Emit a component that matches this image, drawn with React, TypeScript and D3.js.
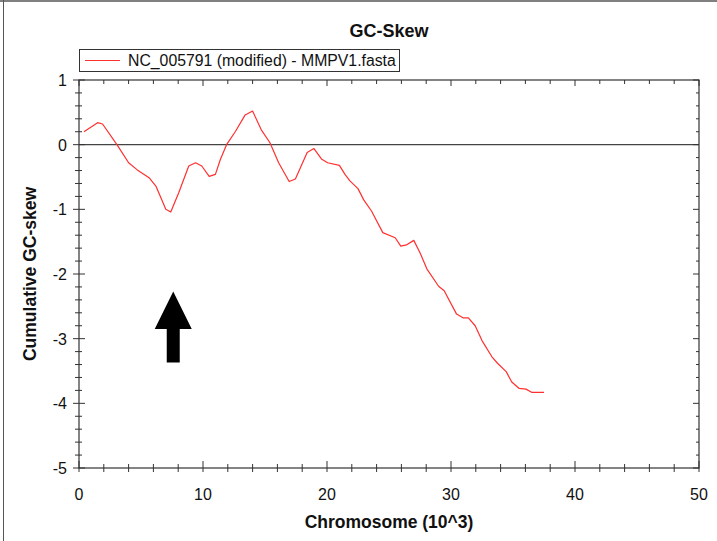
import * as d3 from "d3";

// cumulative GC-skew, x in kb
const positions = [
  0.4, 1.5, 1.9, 3.1, 4.0, 4.7, 5.65, 6.2, 7.0, 7.4, 8.05, 8.85, 9.4, 9.9, 10.5, 11.0, 11.4, 11.9,
  12.6, 13.4, 14.0, 14.7, 15.4, 16.1, 16.95, 17.45, 18.4, 18.95, 19.55, 20.05, 21.0, 21.45, 21.85,
  22.5, 22.95, 23.6, 24.5, 25.5, 25.95, 26.4, 27.0, 27.5, 28.05, 29.0, 29.45, 30.45, 31.0, 31.4,
  31.95, 32.5, 33.3, 33.75, 34.45, 34.9, 35.5, 36.05, 36.5, 37.5
];
const skew = [
  0.2, 0.34, 0.32, -0.01, -0.28, -0.39, -0.51, -0.64, -1.0, -1.04, -0.74, -0.33, -0.28, -0.33, -0.49,
  -0.46, -0.23, 0.0, 0.2, 0.46, 0.52, 0.23, 0.03, -0.28, -0.57, -0.53, -0.12, -0.06, -0.22, -0.28,
  -0.32, -0.46, -0.56, -0.68, -0.85, -1.03, -1.36, -1.44, -1.57, -1.55, -1.48, -1.67, -1.92, -2.19,
  -2.26, -2.62, -2.68, -2.68, -2.8, -3.03, -3.28, -3.38, -3.51, -3.67, -3.77, -3.78, -3.83, -3.83
];
const xMajorTicks = [0, 10, 20, 30, 40, 50];
const yMajorTicks = [1, 0, -1, -2, -3, -4, -5];
const seriesName = "NC_005791 (modified) - MMPV1.fasta";
// arrow annotation, in data units
const arrowAt = { x: 7.6, tip: -2.27, headBase: -2.85, tail: -3.37 };

export default function App() {
  const width = 717;
  const height = 541;
  const left = 79;
  const right = 699;
  const top = 80;
  const bottom = 468;
  const font = "'Liberation Sans', Arial, sans-serif";

  const x = d3.scaleLinear().domain([0, 50]).range([left, right]);
  const y = d3.scaleLinear().domain([-5, 1]).range([bottom, top]);

  const xMinor = d3.range(0, 50.001, 2);
  const yMinor = d3.range(-5, 1.001, 0.2);

  const line = d3
    .line<number>()
    .x((_, i) => x(positions[i]))
    .y((d) => y(d));

  const ax = x(arrowAt.x);
  const arrowPath = [
    [ax, y(arrowAt.tip)],
    [ax + 18.5, y(arrowAt.headBase)],
    [ax + 6.5, y(arrowAt.headBase)],
    [ax + 6.5, y(arrowAt.tail)],
    [ax - 6.5, y(arrowAt.tail)],
    [ax - 6.5, y(arrowAt.headBase)],
    [ax - 18.5, y(arrowAt.headBase)]
  ];

  const axisColor = "#333";

  return (
    <div style={{ position: "fixed", left: 0, top: 0 }}>
      <svg width={width} height={height} viewBox={`0 0 ${width} ${height}`} style={{ display: "block", background: "#fff" }}>
        <line x1={0} x2={width} y1={1} y2={1} stroke="#808080" strokeWidth={2} />
        <line x1={3.5} x2={3.5} y1={0} y2={height} stroke="#555" strokeWidth={1} />

        <text x={(left + right) / 2} y={37} textAnchor="middle" fontFamily={font} fontWeight="bold" fontSize={18} fill="#111">
          GC-Skew
        </text>

        {/* legend */}
        <rect x={79.5} y={49.5} width={320} height={22} fill="#fff" stroke={axisColor} strokeWidth={1} />
        <line x1={85} x2={120} y1={60.5} y2={60.5} stroke="#ff3030" strokeWidth={1} />
        <text x={128} y={66} fontFamily={font} fontSize={15.8} fill="#111">
          {seriesName}
        </text>

        {/* zero line */}
        <line x1={left} x2={right} y1={y(0)} y2={y(0)} stroke="#444" strokeWidth={1.2} />

        {/* frame */}
        <rect x={left} y={top} width={right - left} height={bottom - top} fill="none" stroke={axisColor} strokeWidth={1.2} />

        {/* bottom & top ticks */}
        {xMinor.map((t) => {
          const major = xMajorTicks.includes(t);
          return (
            <g key={`x${t}`} stroke={axisColor} strokeWidth={1}>
              <line x1={x(t)} x2={x(t)} y1={bottom - (major ? 7 : 4)} y2={bottom + 4} />
              <line x1={x(t)} x2={x(t)} y1={top} y2={top + (major ? 6 : 4)} />
            </g>
          );
        })}
        {/* left & right ticks */}
        {yMinor.map((t) => {
          const major = Math.abs(t - Math.round(t)) < 1e-6;
          return (
            <g key={`y${t.toFixed(1)}`} stroke={axisColor} strokeWidth={1}>
              <line x1={left - (major ? 6 : 4)} x2={left + (major ? 6 : 3)} y1={y(t)} y2={y(t)} />
              <line x1={right - (major ? 6 : 3)} x2={right} y1={y(t)} y2={y(t)} />
            </g>
          );
        })}

        {xMajorTicks.map((t) => (
          <text key={`xl${t}`} x={x(t)} y={500} textAnchor="middle" fontFamily={font} fontSize={16} fill="#111">
            {t}
          </text>
        ))}
        {yMajorTicks.map((t) => (
          <text key={`yl${t}`} x={67} y={y(t) + 6} textAnchor="end" fontFamily={font} fontSize={16} fill="#111">
            {t}
          </text>
        ))}

        <text x={(left + right) / 2} y={528} textAnchor="middle" fontFamily={font} fontWeight="bold" fontSize={17.5} fill="#111">
          Chromosome (10^3)
        </text>
        <text
          transform={`translate(36, ${(top + bottom) / 2}) rotate(-90)`}
          textAnchor="middle"
          fontFamily={font}
          fontWeight="bold"
          fontSize={17.5}
          fill="#111"
        >
          Cumulative GC-skew
        </text>

        <path d={line(skew) ?? ""} fill="none" stroke="#ff3030" strokeWidth={1.2} strokeLinejoin="round" />

        <path d={`M${arrowPath.map((p) => p.join(",")).join("L")}Z`} fill="#000" />
      </svg>
    </div>
  );
}
